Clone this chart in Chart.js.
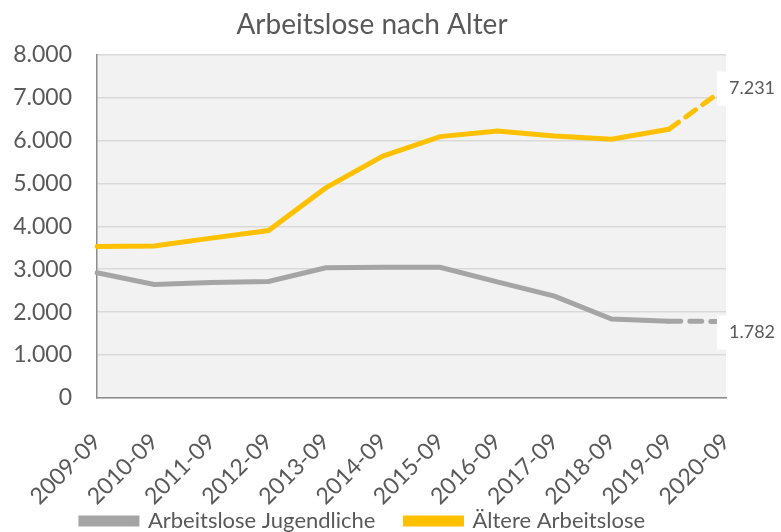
<!DOCTYPE html>
<html>
<head>
<meta charset="utf-8">
<script src="https://cdn.jsdelivr.net/npm/chart.js@4"></script>
<style>
  body { margin: 0; background: #fff; }
  #wrap { width: 781px; height: 532px; }
</style>
</head>
<body>
<div id="wrap"><canvas id="chart" width="781" height="532"></canvas></div>
<script>
// Daten
const jahre = ['2009-09', '2010-09', '2011-09', '2012-09', '2013-09', '2014-09', '2015-09', '2016-09', '2017-09', '2018-09', '2019-09', '2020-09'];
const jugendliche = [2918, 2646, 2693, 2716, 3035, 3045, 3044, 2707, 2372, 1841, 1790, 1782];
const aeltere = [3530, 3543, 3724, 3902, 4894, 5635, 6089, 6220, 6103, 6026, 6260, 7231];
const yTicks = [0, 1000, 2000, 3000, 4000, 5000, 6000, 7000, 8000];

const schrift = 'Lato, "Open Sans", sans-serif';
const textFarbe = '#595959';

// letztes Segment gestrichelt
const strichel = ctx => ctx.p0DataIndex === jahre.length - 2 ? [12, 9] : undefined;

// Hintergrund der Zeichenfläche
const flaechePlugin = {
  id: 'flaeche',
  beforeDraw(chart) {
    const a = chart.chartArea;
    const c = chart.ctx;
    c.save();
    c.fillStyle = '#f2f2f2';
    c.fillRect(a.left, a.top, a.right - a.left, a.bottom - a.top);
    c.restore();
  }
};

// Legende nach oben schieben, Titel etwas nach rechts
const layoutPlugin = {
  id: 'feinLayout',
  afterLayout(chart) {
    chart.legend.top -= 42;
    chart.legend.bottom -= 42;
    chart.titleBlock.right += 18;
  }
};

// Wertbeschriftung am letzten Punkt
const labelPlugin = {
  id: 'endLabel',
  afterDatasetsDraw(chart) {
    const c = chart.ctx;
    c.save();
    c.font = '18px ' + schrift;
    c.textBaseline = 'middle';
    chart.data.datasets.forEach((ds, i) => {
      const meta = chart.getDatasetMeta(i);
      const pt = meta.data[meta.data.length - 1];
      const wert = ds.data[ds.data.length - 1];
      const txt = wert.toLocaleString('de-DE');
      const y = pt.y + (i === 0 ? 11 : 1);
      const w = c.measureText(txt).width;
      c.fillStyle = '#ffffff';
      c.fillRect(pt.x - 9, y - 17, w + 18, 34);
      c.fillStyle = textFarbe;
      c.fillText(txt, pt.x + 3, y);
    });
    c.restore();
  }
};

new Chart(document.getElementById('chart').getContext('2d'), {
  type: 'line',
  data: {
    labels: jahre,
    datasets: [{
      label: 'Arbeitslose Jugendliche',
      data: jugendliche,
      borderColor: '#a5a5a5',
      backgroundColor: '#a5a5a5',
      borderWidth: 5,
      pointRadius: 0,
      tension: 0,
      borderCapStyle: 'round',
      segment: { borderDash: strichel }
    }, {
      label: 'Ältere Arbeitslose',
      data: aeltere,
      borderColor: '#ffc000',
      backgroundColor: '#ffc000',
      borderWidth: 5,
      pointRadius: 0,
      tension: 0,
      borderCapStyle: 'round',
      segment: { borderDash: strichel }
    }]
  },
  options: {
    responsive: false,
    animation: false,
    layout: { padding: { left: 0, right: 55, top: 0, bottom: -52 } },
    plugins: {
      title: {
        display: true,
        text: 'Arbeitslose nach Alter',
        color: '#595959',
        font: { family: schrift, size: 28, weight: 'normal' },
        padding: { top: 8, bottom: 13 }
      },
      legend: {
        position: 'bottom',
        labels: {
          boxWidth: 56,
          boxHeight: 6,
          padding: 30,
          color: textFarbe,
          font: { family: schrift, size: 22 }
        }
      },
      tooltip: { enabled: false }
    },
    scales: {
      x: {
        offset: false,
        grid: { display: false },
        border: { display: true, color: '#8c8c8c', width: 1.5 },
        ticks: {
          color: textFarbe,
          font: { family: schrift, size: 23 },
          minRotation: 45,
          maxRotation: 45,
          padding: 22
        },
        afterFit: s => { s.height = 124; }
      },
      y: {
        min: 0,
        max: 8000,
        afterBuildTicks: s => { s.ticks = yTicks.map(v => ({ value: v })); },
        grid: { color: '#d9d9d9', lineWidth: 1.5, drawTicks: false },
        border: { display: true, color: '#8c8c8c', width: 1.5 },
        ticks: {
          color: textFarbe,
          font: { family: schrift, size: 23 },
          padding: 25,
          callback: v => v.toLocaleString('de-DE')
        },
        afterFit: s => { s.width = 97; }
      }
    }
  },
  plugins: [flaechePlugin, layoutPlugin, labelPlugin]
});
</script>
</body>
</html>
